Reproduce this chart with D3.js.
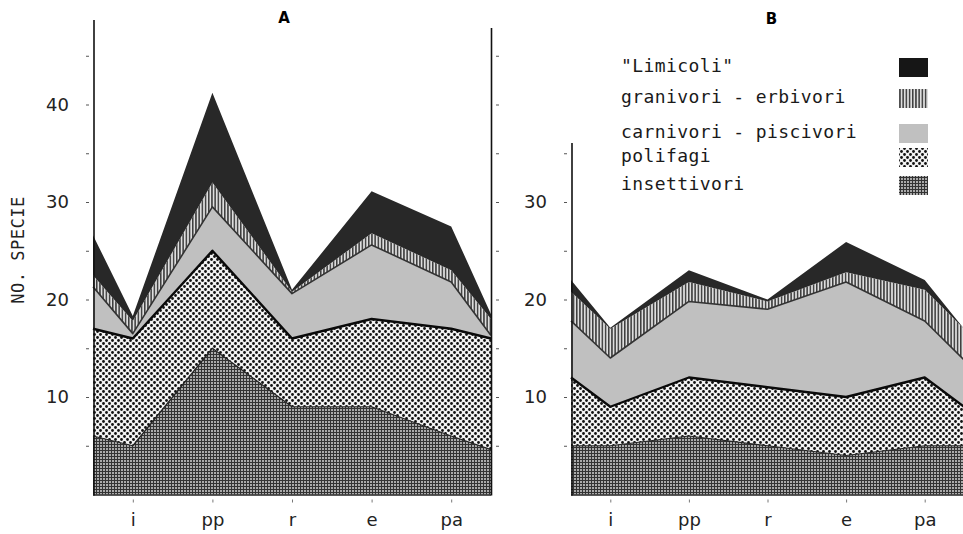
<!DOCTYPE html>
<html>
<head>
<meta charset="utf-8">
<script src="https://cdn.jsdelivr.net/npm/d3@7"></script>
<style>
  body { margin: 0; background: #fff; }
  svg { display: block; }
</style>
</head>
<body>
<div id="chart"></div>
<script>
// categorie sull'asse x
const categories = ['i', 'pp', 'r', 'e', 'pa']
// posizione x dei punti: bordo sinistro (mezzo passo), le 5 categorie, bordo destro
const xSteps = [-0.5, 0, 1, 2, 3, 4, 4.5]
const seriesKeys = ['insettivori', 'polifagi', 'carnivori', 'granivori', 'limicoli']
const legendLabels = {
    limicoli: '"Limicoli"',
    granivori: 'granivori - erbivori',
    carnivori: 'carnivori - piscivori',
    polifagi: 'polifagi',
    insettivori: 'insettivori'
}
const yLabelValues = [10, 20, 30, 40]

// pannello A (numero di specie per gruppo, non cumulato)
const insettivoriA = [6, 5, 15, 9, 9, 6, 4.6]
const polifagiA    = [11, 11, 10, 7, 9, 11, 11.4]
const carnivoriA   = [4.3, 0.5, 4.5, 4.6, 7.6, 4.8, 0.3]
const granivoriA   = [1.2, 1.3, 2.5, 0.2, 1.2, 1.2, 1.7]
const limicoliA    = [4.1, 0.5, 9.2, 0.2, 4.3, 4.5, 0.5]

// pannello B
const insettivoriB = [5, 5, 6, 5, 4, 5, 5]
const polifagiB    = [7, 4, 6, 6, 6, 7, 4]
const carnivoriB   = [5.8, 5, 7.8, 8, 11.8, 5.8, 4.8]
const granivoriB   = [3, 3, 2, 0.8, 1, 3.2, 3.2]
const limicoliB    = [1.2, 0.1, 1.2, 0.2, 3.1, 1, 0]

const width = 963, height = 534

const svg = d3.select('#chart').append('svg')
    .attr('width', width).attr('height', height)

// pattern di riempimento
const defs = svg.append('defs')

let p = defs.append('pattern').attr('id', 'pat-ins')
    .attr('patternUnits', 'userSpaceOnUse').attr('width', 3).attr('height', 3)
p.append('rect').attr('width', 3).attr('height', 3).attr('fill', '#aaaaaa')
p.append('rect').attr('width', 3).attr('height', 1).attr('fill', '#333')
p.append('rect').attr('width', 1).attr('height', 3).attr('fill', '#333')

p = defs.append('pattern').attr('id', 'pat-pol')
    .attr('patternUnits', 'userSpaceOnUse').attr('width', 6).attr('height', 6)
p.append('rect').attr('width', 6).attr('height', 6).attr('fill', '#f2f2f2')
p.append('circle').attr('cx', 1.5).attr('cy', 1.5).attr('r', 1.4).attr('fill', '#111')
p.append('circle').attr('cx', 4.5).attr('cy', 4.5).attr('r', 1.4).attr('fill', '#111')

p = defs.append('pattern').attr('id', 'pat-gra')
    .attr('patternUnits', 'userSpaceOnUse').attr('width', 3.2).attr('height', 10)
p.append('rect').attr('width', 3.2).attr('height', 10).attr('fill', '#dedede')
p.append('rect').attr('width', 1.5).attr('height', 10).attr('fill', '#3c3c3c')

const fills = {
    insettivori: 'url(#pat-ins)',
    polifagi: 'url(#pat-pol)',
    carnivori: '#c0c0c0',
    granivori: 'url(#pat-gra)',
    limicoli: '#282828'
}
// linee di confine in cima a ogni strato
const edgeStroke = {
    insettivori: { color: '#222', w: 1.2 },
    polifagi: { color: '#0a0a0a', w: 2.4 },
    carnivori: { color: '#333', w: 1.6 }
}

// scala y comune ai due pannelli
const y = d3.scaleLinear().domain([0, 40]).range([494.5, 104.5])

const font = '"DejaVu Sans", sans-serif'
const mono = '"DejaVu Sans Mono", monospace'

function rowsOf(ins, pol, car, gra, lim) {
    return xSteps.map((s, i) => ({
        x: s, insettivori: ins[i], polifagi: pol[i], carnivori: car[i], granivori: gra[i], limicoli: lim[i]
    }))
}

function drawPanel(rows, xRange, axisTop, tickMax) {
    const g = svg.append('g')
    const x = d3.scaleLinear().domain([-0.5, 4.5]).range(xRange)

    const stacked = d3.stack().keys(seriesKeys)(rows)
    const area = d3.area()
        .x(d => x(d.data.x))
        .y0(d => y(d[0]))
        .y1(d => y(d[1]))
    const topLine = d3.line()
        .x(d => x(d.data.x))
        .y(d => y(d[1]))

    g.selectAll('path.layer')
        .data(stacked)
        .join('path')
        .attr('class', 'layer')
        .attr('d', area)
        .attr('fill', d => fills[d.key])

    g.selectAll('path.edge')
        .data(stacked.filter(s => edgeStroke[s.key]))
        .join('path')
        .attr('class', 'edge')
        .attr('d', topLine)
        .attr('fill', 'none')
        .attr('stroke', d => edgeStroke[d.key].color)
        .attr('stroke-width', d => edgeStroke[d.key].w)
        .attr('stroke-linejoin', 'round')

    // linea di base
    g.append('line')
        .attr('x1', xRange[0]).attr('x2', xRange[1])
        .attr('y1', y(0) + 0.5).attr('y2', y(0) + 0.5)
        .attr('stroke', '#222').attr('stroke-width', 1.5)

    // asse verticale sinistro
    const x0 = xRange[0] + 1
    g.append('line')
        .attr('x1', x0).attr('x2', x0)
        .attr('y1', axisTop).attr('y2', y(0) + 1)
        .attr('stroke', '#111').attr('stroke-width', 1.6)

    const ticks = d3.range(5, tickMax + 1, 5)
    const yAxis = g.append('g')
        .attr('transform', `translate(${x0 - 5},0)`)
        .call(d3.axisLeft(y).tickValues(ticks).tickSize(3).tickPadding(17)
            .tickFormat(d => yLabelValues.includes(d) ? d : ''))
    yAxis.select('.domain').remove()
    yAxis.selectAll('line').attr('stroke', '#555')
    yAxis.selectAll('text')
        .style('font-family', font).style('font-size', '18px').attr('fill', '#222')

    // asse x
    const xAxis = g.append('g')
        .attr('transform', `translate(0,${y(0) + 5})`)
        .call(d3.axisBottom(x).tickValues(d3.range(categories.length)).tickSize(3).tickPadding(11)
            .tickFormat(i => categories[i]))
    xAxis.select('.domain').remove()
    xAxis.selectAll('line').attr('stroke', '#777')
    xAxis.selectAll('text')
        .style('font-family', font).style('font-size', '18px').attr('fill', '#222')

    return { g, x }
}

const panelA = drawPanel(rowsOf(insettivoriA, polifagiA, carnivoriA, granivoriA, limicoliA), [93, 491], 20, 45)
const panelB = drawPanel(rowsOf(insettivoriB, polifagiB, carnivoriB, granivoriB, limicoliB), [571, 964], 143, 35)

// asse destro del pannello A (solo tacche)
panelA.g.append('line')
    .attr('x1', 491.5).attr('x2', 491.5)
    .attr('y1', 28).attr('y2', y(0) + 1)
    .attr('stroke', '#111').attr('stroke-width', 1.6)
const rightAxis = panelA.g.append('g')
    .attr('transform', 'translate(496,0)')
    .call(d3.axisRight(y).tickValues(d3.range(5, 46, 5)).tickSize(3).tickFormat(''))
rightAxis.select('.domain').remove()
rightAxis.selectAll('line').attr('stroke', '#555')

// titoli dei pannelli
svg.append('text').attr('x', panelA.x(1.9)).attr('y', 23)
    .attr('text-anchor', 'middle')
    .style('font-family', font).style('font-size', '15px').style('font-weight', 'bold')
    .text('A')
svg.append('text').attr('x', panelB.x(2.05)).attr('y', 24)
    .attr('text-anchor', 'middle')
    .style('font-family', font).style('font-size', '15px').style('font-weight', 'bold')
    .text('B')

// titolo asse y
svg.append('text')
    .attr('transform', 'translate(24,250) rotate(-90)')
    .attr('text-anchor', 'middle')
    .style('font-family', mono).style('font-size', '17px').style('letter-spacing', '0.5px')
    .attr('fill', '#222')
    .text('NO. SPECIE')

// legenda
const legendOrder = seriesKeys.slice().reverse()
const legendBaselines = [72, 103, 138, 162, 190]
const legend = svg.append('g')
legendOrder.forEach((k, i) => {
    legend.append('text')
        .attr('x', 621).attr('y', legendBaselines[i])
        .style('font-family', mono).style('font-size', '18px').style('letter-spacing', '0.4px')
        .attr('fill', '#1a1a1a')
        .text(legendLabels[k])
    legend.append('rect')
        .attr('x', 899).attr('y', legendBaselines[i] - 14)
        .attr('width', 29).attr('height', 19)
        .attr('fill', k === 'limicoli' ? '#161616' : fills[k])
})
</script>
</body>
</html>
